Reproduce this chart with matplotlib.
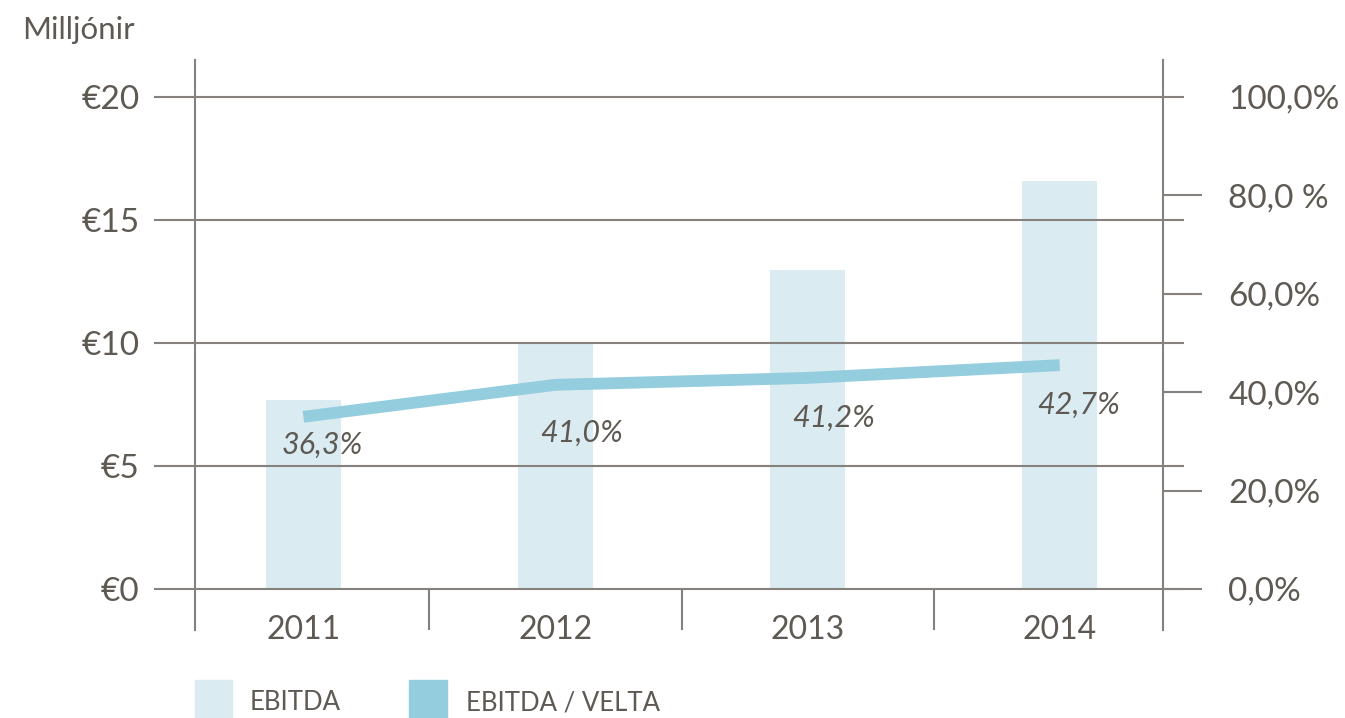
import numpy as np
import matplotlib as mpl
import matplotlib.pyplot as plt
from matplotlib.patches import Rectangle


YEARS = ["2011", "2012", "2013", "2014"]
EBITDA = [7.68, 10.0, 12.97, 16.6]              # millions EUR
MARGIN = [35.0, 41.5, 42.9, 45.5]               # EBITDA / velta, % (line position)
MARGIN_LABELS = ["36,3%", "41,0%", "41,2%", "42,7%"]
LEFT_TICKS = [0, 5, 10, 15, 20]
LEFT_LABELS = ["€0", "€5", "€10", "€15", "€20"]
RIGHT_TICKS = [0, 20, 40, 60, 80, 100]
RIGHT_LABELS = ["0,0%", "20,0%", "40,0%", "60,0%", "80,0 %", "100,0%"]

COLORS = {
    "bar": "#DAECF2",
    "line": "#93CDDE",
    "axis": "#86817C",
    "text": "#5E5953",
}

# label offsets in pixels (dx, dy) from each line point
LABEL_OFFSETS = [(19, -28), (26, -48), (26, -40), (19, -40)]


def apply_style() -> None:
    mpl.rcParams.update(
        {
            "font.family": ["Lato", "DejaVu Sans"],
            "font.size": 22,
            "text.color": COLORS["text"],
            "xtick.color": COLORS["text"],
            "ytick.color": COLORS["text"],
        }
    )


def main() -> None:
    apply_style()

    fig = plt.figure(figsize=(13.45, 7.18), dpi=100)
    ax = fig.add_axes([0.145, 0.1226, 0.7197, 0.7938])
    ymin, ymax = -1.667, 21.504
    x = np.arange(len(YEARS))

    ax.bar(x, EBITDA, width=0.3, color=COLORS["bar"], zorder=1)
    ax.set_xlim(-0.43, 3.41)
    ax.set_ylim(ymin, ymax)

    for s in ("top", "bottom"):
        ax.spines[s].set_visible(False)
    for s in ("left", "right"):
        ax.spines[s].set_color(COLORS["axis"])
        ax.spines[s].set_linewidth(1.5)

    # horizontal grid lines reaching past both spines
    for v in LEFT_TICKS:
        ax.plot([-0.041, 1.021], [v, v], transform=ax.get_yaxis_transform(),
                color=COLORS["axis"], lw=1.5, clip_on=False, zorder=2)
    # category separators below the baseline
    ax.vlines([0.5, 1.5, 2.5], ymin, 0, color=COLORS["axis"], lw=1.5, zorder=2)

    ax.set_yticks(LEFT_TICKS, LEFT_LABELS)
    ax.tick_params(axis="y", length=0, pad=40, labelsize=24)
    ax.set_xticks([])
    for xi, year in zip(x, YEARS):
        ax.text(xi, 0.0, year, transform=ax.get_xaxis_transform(),
                ha="center", va="center", fontsize=23)

    ax2 = ax.twinx()
    ax2.set_ylim(ymin * 5, ymax * 5)
    for s in ax2.spines.values():
        s.set_visible(False)
    ax2.set_yticks(RIGHT_TICKS, RIGHT_LABELS)
    ax2.tick_params(axis="y", length=28, width=1.5, color=COLORS["axis"],
                    pad=19, labelsize=24)
    ax2.yaxis.get_major_ticks()[-1].tick2line.set_visible(False)

    ax2.plot(x, MARGIN, color=COLORS["line"], lw=8.5,
             solid_capstyle="butt", solid_joinstyle="round", zorder=3)
    for xi, yi, lab, (dx, dy) in zip(x, MARGIN, MARGIN_LABELS, LABEL_OFFSETS):
        ax2.annotate(lab, (xi, yi), xytext=(dx * 0.72, dy * 0.72),
                     textcoords="offset points", ha="center", va="center",
                     fontsize=22, style="italic", color=COLORS["text"])

    fig.text(22 / 1345, 1 - 30 / 718, "Milljónir", fontsize=22.5,
             ha="left", va="center")

    # legend
    fig.patches.append(Rectangle((195 / 1345, 0), 37 / 1345, 38 / 718,
                                 transform=fig.transFigure, color=COLORS["bar"]))
    fig.text(250 / 1345, 1 - 703 / 718, "EBITDA", fontsize=18.5,
             ha="left", va="center")
    fig.patches.append(Rectangle((409 / 1345, 0), 38 / 1345, 38 / 718,
                                 transform=fig.transFigure, color=COLORS["line"]))
    fig.text(466 / 1345, 1 - 703 / 718, "EBITDA / VELTA", fontsize=18.5,
             ha="left", va="center")

    fig.savefig("out.png", dpi=100)
    plt.close(fig)


if __name__ == "__main__":
    main()
